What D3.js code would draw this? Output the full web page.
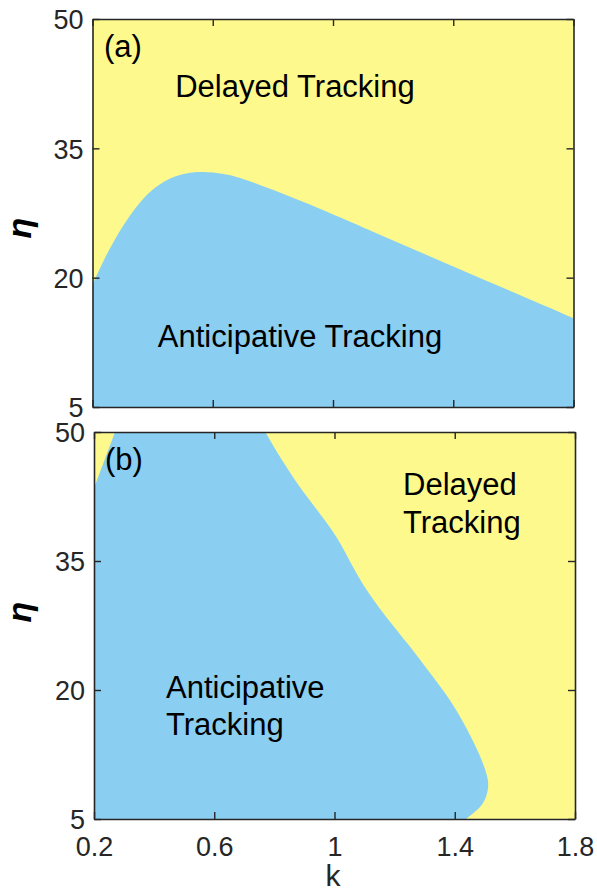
<!DOCTYPE html>
<html>
<head>
<meta charset="utf-8">
<script src="https://cdn.jsdelivr.net/npm/d3@7/dist/d3.min.js"></script>
<style>
  html, body { margin: 0; padding: 0; background: #fff; }
  svg { display: block; font-family: "Liberation Sans", Arial, Helvetica, sans-serif; }
</style>
</head>
<body>
<svg id="chart" width="597" height="892"></svg>
<script>
// ---- data ----
const xTicks = [0.2, 0.6, 1, 1.4, 1.8];
const yTicks = [5, 20, 35, 50];
const xDomain = [0.2, 1.8];
const yDomain = [5, 50];

// panel (a): boundary between anticipative (below) and delayed (above)
const boundaryA_k   = [0.2, 0.25, 0.3, 0.35, 0.4, 0.45, 0.5, 0.55, 0.6, 0.65, 0.7, 0.8, 0.9, 1.0, 1.2, 1.4, 1.6, 1.8];
const boundaryA_eta = [19.2, 23.0, 26.0, 28.5, 30.3, 31.45, 32.05, 32.3, 32.25, 31.95, 31.5, 30.2, 28.8, 27.35, 24.3, 21.3, 18.3, 15.3];

// panel (b): right boundary (top to bottom)
const boundaryB_k   = [0.77, 0.83, 0.897, 0.977, 1.02, 1.053, 1.11, 1.187, 1.253, 1.31, 1.387, 1.443, 1.487, 1.51, 1.513, 1.503, 1.477, 1.437];
const boundaryB_eta = [50, 46.4, 42.9, 39.4, 37.1, 34.8, 31.3, 27.8, 25.0, 22.3, 18.84, 15.35, 12.2, 9.9, 8.72, 7.2, 6.05, 5];
// panel (b): small top-left delayed corner
const cornerB_k   = [0.27, 0.2];
const cornerB_eta = [50, 43.5];

const YELLOW = "rgb(253,249,140)";
const BLUE = "rgb(138,206,242)";
const AXIS = "#262626";

const svg = d3.select("#chart");

const panels = [
  { id: "a", x0: 92.5, x1: 573.5, y0: 19, y1: 407, showX: false },
  { id: "b", x0: 94, x1: 575, y0: 432, y1: 819, showX: true }
];

panels.forEach(p => {
  p.x = d3.scaleLinear().domain(xDomain).range([p.x0, p.x1]);
  p.y = d3.scaleLinear().domain(yDomain).range([p.y1, p.y0]);
  const defs = svg.append("defs");
  defs.append("clipPath").attr("id", "clip-" + p.id)
    .append("rect").attr("x", p.x0).attr("y", p.y0)
    .attr("width", p.x1 - p.x0).attr("height", p.y1 - p.y0);
  p.g = svg.append("g");
  p.plot = p.g.append("g").attr("clip-path", "url(#clip-" + p.id + ")");
  p.plot.append("rect").attr("x", p.x0).attr("y", p.y0)
    .attr("width", p.x1 - p.x0).attr("height", p.y1 - p.y0).attr("fill", YELLOW);
});

// panel a region
{
  const p = panels[0];
  const pts = boundaryA_k.map((k, i) => [k, boundaryA_eta[i]]);
  const area = d3.area()
    .x(d => p.x(d[0])).y0(p.y(yDomain[0])).y1(d => p.y(d[1]))
    .curve(d3.curveBasis);
  p.plot.append("path").datum(pts).attr("d", area).attr("fill", BLUE);
}

// panel b region
{
  const p = panels[1];
  const pts = boundaryB_k.map((k, i) => [k, boundaryB_eta[i]]);
  const line = d3.line().x(d => p.x(d[0])).y(d => p.y(d[1])).curve(d3.curveBasis);
  let d = line(pts);
  const tail = [
    [xDomain[0], yDomain[0]],
    [cornerB_k[1], cornerB_eta[1]],
    [cornerB_k[0], cornerB_eta[0]]
  ];
  tail.forEach(t => { d += "L" + p.x(t[0]) + "," + p.y(t[1]); });
  d += "Z";
  p.plot.append("path").attr("d", d).attr("fill", BLUE);
}

// axes
panels.forEach(p => {
  const fs = 27;
  const left = d3.axisLeft(p.y).tickValues(yTicks).tickFormat(d3.format("d"))
    .tickSizeInner(-7).tickSizeOuter(0).tickPadding(9);
  const right = d3.axisRight(p.y).tickValues(yTicks).tickFormat("")
    .tickSizeInner(-7).tickSizeOuter(0);
  const bottom = d3.axisBottom(p.x).tickValues(xTicks).tickFormat(p.showX ? (d => String(d)) : "")
    .tickSizeInner(-7).tickSizeOuter(0).tickPadding(18);
  const top = d3.axisTop(p.x).tickValues(xTicks).tickFormat("")
    .tickSizeInner(-7).tickSizeOuter(0);

  const gl = p.g.append("g").attr("transform", `translate(${p.x0},0)`).call(left);
  const gr = p.g.append("g").attr("transform", `translate(${p.x1},0)`).call(right);
  const gb = p.g.append("g").attr("transform", `translate(0,${p.y1})`).call(bottom);
  const gt = p.g.append("g").attr("transform", `translate(0,${p.y0})`).call(top);
  [gl, gr, gb, gt].forEach(g => {
    g.selectAll("path.domain").attr("stroke", AXIS).attr("stroke-width", 1.6);
    g.selectAll(".tick line").attr("stroke", AXIS).attr("stroke-width", 1.4);
    g.selectAll(".tick text").attr("fill", AXIS).style("font-size", fs + "px")
      .style("font-family", '"Liberation Sans", Arial, sans-serif');
  });
  gl.selectAll(".tick text").attr("dy", "0.36em");
});

// axis labels
svg.append("text").attr("transform", "translate(31,228) rotate(-90)")
  .attr("text-anchor", "middle").style("font-size", "34px").style("font-weight", "bold")
  .style("font-style", "italic").attr("fill", "#000").text("η");
svg.append("text").attr("transform", "translate(31,612) rotate(-90)")
  .attr("text-anchor", "middle").style("font-size", "34px").style("font-weight", "bold")
  .style("font-style", "italic").attr("fill", "#000").text("η");
svg.append("text").attr("x", 333).attr("y", 886).attr("text-anchor", "middle")
  .style("font-size", "30px").attr("fill", AXIS).text("k");

// annotations
const ann = [
  { t: "(a)", x: 104, y: 57, a: "start" },
  { t: "Delayed Tracking", x: 295, y: 97, a: "middle" },
  { t: "Anticipative Tracking", x: 300, y: 347, a: "middle" },
  { t: "(b)", x: 105, y: 470, a: "start" },
  { t: "Delayed", x: 403, y: 495, a: "start" },
  { t: "Tracking", x: 403, y: 533, a: "start" },
  { t: "Anticipative", x: 166, y: 698, a: "start" },
  { t: "Tracking", x: 166, y: 735, a: "start" }
];
ann.forEach(o => {
  svg.append("text").attr("x", o.x).attr("y", o.y).attr("text-anchor", o.a)
    .style("font-size", "31px").attr("fill", "#000").text(o.t);
});
</script>
</body>
</html>
